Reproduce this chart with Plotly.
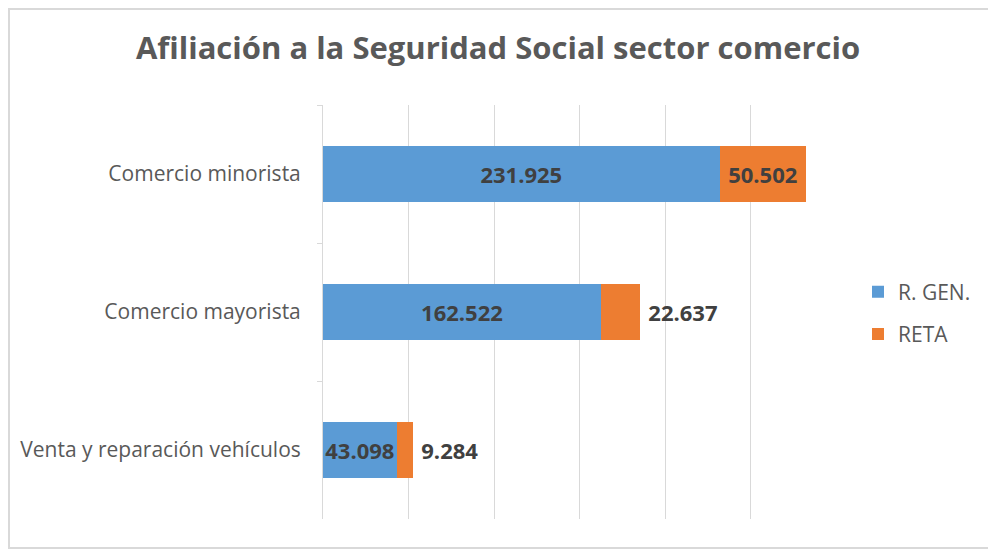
import plotly.graph_objects as go

categories = ["Comercio minorista", "Comercio mayorista", "Venta y reparación vehículos"]
r_gen = [231925, 162522, 43098]
reta = [50502, 22637, 9284]
reta_textpos = ["inside", "outside", "outside"]
reta_template = ["%{x:,.0f}", "\u00a0%{x:,.0f}", "\u00a0%{x:,.0f}"]
series_names = ["R. GEN.", "RETA"]
colors = ["#5B9BD5", "#ED7D31"]

FONT = "Open Sans"
OFF = 8  # page body margin offset
W, H = 996 - OFF, 551 - OFF
# reference pixel positions (page coords) converted to figure coords
L = 323 - OFF
T = 105 - OFF
R = W - (836 - OFF)
B = H - (519 - OFF)
pw, ph = W - L - R, H - T - B


def px(xpage):
    return (xpage - OFF - L) / pw


def py(ypage):
    return (H - B - (ypage - OFF)) / ph


fig = go.Figure()
fig.add_trace(go.Bar(
    y=categories, x=r_gen, name=series_names[0], orientation="h",
    marker=dict(color=colors[0], line=dict(width=0)),
    texttemplate="%{x:,.0f}", textposition="inside", insidetextanchor="middle",
    textfont=dict(family=FONT, size=22, color="#404040", weight="bold"),
    constraintext="none", legendgroup="a", hoverinfo="x+name",
))
fig.add_trace(go.Bar(
    y=categories, x=reta, name=series_names[1], orientation="h",
    marker=dict(color=colors[1], line=dict(width=0)),
    texttemplate=reta_template, textposition=reta_textpos, insidetextanchor="middle",
    textfont=dict(family=FONT, size=22, color="#404040", weight="bold"),
    constraintext="none", cliponaxis=False, legendgroup="b", hoverinfo="x+name",
))

fig.update_layout(
    width=W, height=H,
    margin=dict(l=L, r=R, t=T, b=B),
    barmode="stack", bargap=0.6,
    separators=",.",
    plot_bgcolor="white", paper_bgcolor="white",
    font=dict(family=FONT, color="#595959"),
    title=dict(text="<b>Afiliación a la Seguridad Social sector comercio</b>",
               x=(498 - OFF) / W, xanchor="center", xref="container",
               y=1 - (48 - OFF) / H, yanchor="middle", yref="container",
               font=dict(family=FONT, size=31, color="#595959")),
    xaxis=dict(range=[0, 300000], dtick=50000, showgrid=True, gridcolor="#d9d9d9",
               gridwidth=1, showticklabels=False, zeroline=False, showline=False,
               ticks="", fixedrange=True),
    yaxis=dict(autorange="reversed", showline=True, linecolor="#d9d9d9", linewidth=1,
               ticks="outside", tickson="boundaries", ticklen=5, tickcolor="#d9d9d9",
               ticklabelstandoff=17, showgrid=False,
               tickfont=dict(family=FONT, size=21, color="#595959")),
    legend=dict(x=px(858), xanchor="left", y=py(313), yanchor="middle",
                font=dict(family=FONT, size=21, color="#595959"),
                traceorder="grouped", tracegroupgap=12, itemwidth=30,
                bgcolor="rgba(0,0,0,0)"),
    shapes=[dict(type="rect", xref="paper", yref="paper",
                 x0=px(9), x1=px(991), y0=py(548), y1=py(9),
                 line=dict(color="#d9d9d9", width=2), layer="below")],
)

fig.write_html("out.html")
